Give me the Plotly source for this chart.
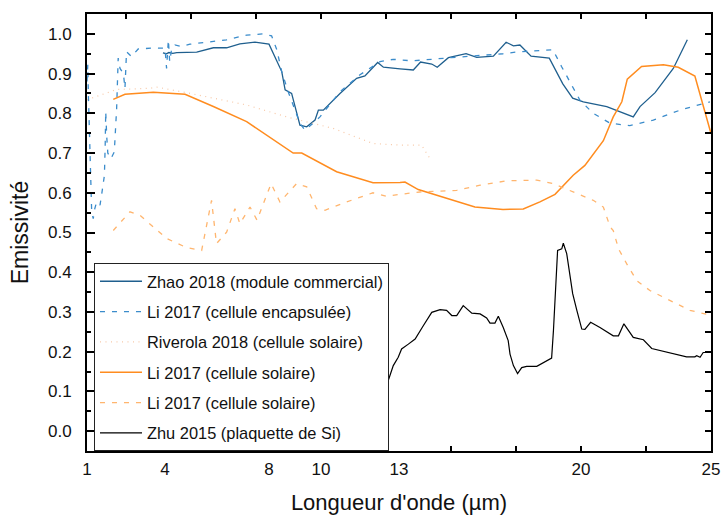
import plotly.graph_objects as go

# ---- data ----
zhao_x = [3.92, 4.05, 4.15, 4.30, 4.45, 5.22, 5.86, 6.37, 6.88, 7.46, 8.00, 8.49, 8.62, 8.87, 9.19,
          9.45, 9.77, 9.90, 10.09, 10.73, 11.37, 11.69, 12.18, 12.40, 13.04, 13.55, 13.83, 14.26,
          14.47, 14.90, 15.58, 15.99, 16.63, 16.82, 17.12, 17.40, 17.65, 18.08, 18.78, 19.30,
          19.68, 20.09, 20.99, 22.01, 22.27, 22.85, 23.55, 24.09]
zhao_y = [0.952, 0.950, 0.953, 0.951, 0.953, 0.954, 0.965, 0.965, 0.975, 0.979, 0.974, 0.905, 0.859,
          0.850, 0.770, 0.766, 0.783, 0.808, 0.808, 0.850, 0.888, 0.894, 0.928, 0.916, 0.912, 0.909,
          0.929, 0.924, 0.916, 0.940, 0.950, 0.941, 0.944, 0.957, 0.979, 0.970, 0.972, 0.944, 0.939,
          0.874, 0.838, 0.829, 0.817, 0.791, 0.817, 0.852, 0.913, 0.985]

enc_x = [1.00, 1.03, 1.05, 1.08, 1.12, 1.18, 1.24, 1.30, 1.37, 1.50, 1.56, 1.62, 1.67, 1.70, 1.72,
         1.76, 1.80, 1.92, 2.05, 2.14, 2.20, 2.27, 2.40, 2.46, 2.52, 2.71, 2.97, 3.49, 4.00, 4.06,
         4.10, 4.13, 4.18, 4.26, 4.38, 4.64, 4.96, 6.37, 7.14, 7.78, 8.10, 8.30, 8.49, 8.74, 9.19,
         9.38, 9.70, 9.96, 10.73, 11.50, 12.27, 12.78, 13.50, 14.00, 15.00, 16.00, 17.00, 17.60,
         18.50, 18.92, 19.25, 19.96, 20.47, 21.12, 21.88, 22.78, 23.81, 24.96]
enc_y = [0.880, 0.922, 0.854, 0.770, 0.644, 0.552, 0.535, 0.560, 0.577, 0.569, 0.594, 0.620, 0.644,
         0.720, 0.804, 0.740, 0.700, 0.686, 0.703, 0.812, 0.939, 0.913, 0.900, 0.863, 0.955, 0.943,
         0.962, 0.964, 0.964, 0.913, 0.960, 0.985, 0.930, 0.964, 0.972, 0.968, 0.974, 0.985, 0.997,
         1.000, 0.995, 0.960, 0.905, 0.854, 0.775, 0.758, 0.775, 0.791, 0.854, 0.897, 0.930, 0.936,
         0.932, 0.935, 0.940, 0.945, 0.950, 0.955, 0.958, 0.960, 0.918, 0.833, 0.800, 0.775, 0.769,
         0.783, 0.808, 0.829]

riv_x = [1.00, 2.14, 3.42, 3.68, 4.83, 7.14, 8.68, 10.47, 12.00, 13.04, 13.87, 14.19]
riv_y = [0.834, 0.860, 0.863, 0.866, 0.852, 0.821, 0.791, 0.762, 0.724, 0.720, 0.720, 0.686]

lis_x = [2.01, 2.46, 3.55, 4.77, 5.86, 7.14, 8.93, 9.26, 10.60, 12.00, 13.04, 13.23, 13.74, 15.92,
         17.00, 17.78, 18.42, 19.00, 19.70, 20.15, 20.86, 21.24, 21.57, 21.78, 22.33, 23.17, 23.74,
         24.38, 25.00]
lis_y = [0.835, 0.848, 0.853, 0.848, 0.817, 0.779, 0.700, 0.700, 0.653, 0.625, 0.626, 0.627, 0.608,
         0.564, 0.558, 0.559, 0.577, 0.596, 0.644, 0.669, 0.731, 0.791, 0.829, 0.886, 0.918, 0.922,
         0.916, 0.894, 0.749]

lid_x = [2.01, 2.65, 3.04, 4.06, 4.83, 5.41, 5.79, 5.98, 6.37, 6.69, 6.88, 7.27, 7.54, 7.73, 8.08,
         8.42, 9.06, 9.45, 9.83, 10.15, 10.99, 12.00, 12.53, 13.04, 13.80, 15.22, 16.12, 17.14,
         18.30, 18.94, 19.70, 20.47, 20.86, 21.12, 21.24, 21.45, 21.76, 22.14, 22.65, 23.42, 24.19,
         24.90]
lid_y = [0.505, 0.552, 0.543, 0.485, 0.462, 0.455, 0.581, 0.472, 0.501, 0.560, 0.522, 0.564, 0.531,
         0.564, 0.623, 0.577, 0.623, 0.615, 0.560, 0.556, 0.577, 0.600, 0.591, 0.596, 0.602, 0.606,
         0.619, 0.630, 0.632, 0.623, 0.602, 0.581, 0.564, 0.514, 0.505, 0.458, 0.421, 0.379, 0.354,
         0.329, 0.304, 0.293]

zhu_x = [12.60, 12.78, 12.97, 13.10, 13.36, 13.62, 13.94, 14.26, 14.58, 14.83, 15.03, 15.22, 15.47,
         15.80, 16.12, 16.37, 16.50, 16.69, 16.82, 17.01, 17.20, 17.27, 17.40, 17.56, 17.72, 17.91,
         18.30, 18.55, 18.87, 18.94, 19.03, 19.10, 19.26, 19.32, 19.45, 19.58, 19.68, 19.84, 20.03,
         20.15, 20.37, 20.73, 21.24, 21.44, 21.65, 22.01, 22.40, 22.72, 23.55, 24.06, 24.38, 24.45,
         24.58, 24.70, 24.96]
zhu_y = [0.130, 0.165, 0.186, 0.207, 0.219, 0.232, 0.266, 0.299, 0.306, 0.304, 0.291, 0.291, 0.316,
         0.297, 0.295, 0.285, 0.272, 0.272, 0.289, 0.261, 0.228, 0.194, 0.165, 0.145, 0.160, 0.163,
         0.163, 0.172, 0.184, 0.253, 0.379, 0.455, 0.459, 0.473, 0.447, 0.396, 0.346, 0.304, 0.257,
         0.256, 0.274, 0.261, 0.240, 0.240, 0.270, 0.236, 0.230, 0.208, 0.194, 0.187, 0.187, 0.190,
         0.186, 0.198, 0.198]

names = ["Zhao 2018 (module commercial)", "Li 2017 (cellule encapsulée)",
         "Riverola 2018 (cellule solaire)", "Li 2017 (cellule solaire)",
         "Li 2017 (cellule solaire)", "Zhu 2015 (plaquette de Si)"]
x_tick_vals = [1, 4, 8, 10, 13, 20, 25]
x_tick_text = ["1", "4", "8", "10", "13", "20", "25"]
x_mark_vals = [2.5, 5, 7.5, 10, 12.5, 15, 17.5, 20, 22.5, 25]
y_tick_vals = [0.0, 0.1, 0.2, 0.3, 0.4, 0.5, 0.6, 0.7, 0.8, 0.9, 1.0]
y_tick_text = ["0.0", "0.1", "0.2", "0.3", "0.4", "0.5", "0.6", "0.7", "0.8", "0.9", "1.0"]

FONT = "Liberation Sans, Arial, sans-serif"
X_RANGE = [1, 25]
Y_RANGE = [-0.05, 1.05]

series = [
    (zhao_x, zhao_y, dict(color="#1f5f8e", width=1.3)),
    (enc_x, enc_y, dict(color="#3b8ccb", width=1.3, dash="5px,7px")),
    (riv_x, riv_y, dict(color="#f7c9a8", width=1.2, dash="1px,4.5px")),
    (lis_x, lis_y, dict(color="#ff8c1f", width=1.5)),
    (lid_x, lid_y, dict(color="#ffb56e", width=1.3, dash="5px,7px")),
    (zhu_x, zhu_y, dict(color="#000000", width=1.2)),
]

fig = go.Figure()
for i, (xs, ys, ln) in enumerate(series):
    fig.add_trace(go.Scatter(x=xs, y=ys, mode="lines", name=names[i], line=ln,
                             legendgroup="g%d" % i))

# invisible helper traces so the extra (label / top / right) axes are drawn
for xa, ya in [("x2", "y"), ("x3", "y"), ("x", "y2")]:
    fig.add_trace(go.Scatter(x=X_RANGE, y=[0.5, 0.5], xaxis=xa, yaxis=ya, mode="lines",
                             line=dict(width=0, color="rgba(0,0,0,0)"),
                             showlegend=False, hoverinfo="skip"))

fig.update_layout(
    width=722, height=515,
    margin=dict(l=87, r=11, t=14, b=64, autoexpand=False),
    paper_bgcolor="white", plot_bgcolor="white",
    font=dict(family=FONT, color="#111111"),
    showlegend=True,
    legend=dict(x=0.0112, y=0.430, xanchor="left", yanchor="top",
                bgcolor="white", bordercolor="#222222", borderwidth=1,
                font=dict(family=FONT, size=16.4, color="#111111"),
                tracegroupgap=6, itemwidth=42),
    # bottom axis: tick marks only
    xaxis=dict(range=X_RANGE, tickmode="array", tickvals=x_mark_vals, showticklabels=False,
               ticks="inside", ticklen=5, tickwidth=1.5, tickcolor="black",
               showgrid=False, zeroline=False, showline=True, linecolor="black",
               linewidth=2, mirror=True, automargin=False,
               title=dict(text="Longueur d'onde (µm)", font=dict(size=22), standoff=43)),
    # bottom labels
    xaxis2=dict(range=X_RANGE, overlaying="x", anchor="y", side="bottom",
                tickmode="array", tickvals=x_tick_vals, ticktext=x_tick_text, ticks="",
                tickfont=dict(size=17), ticklabelstandoff=6, showgrid=False,
                zeroline=False, showline=False, automargin=False),
    # top tick marks
    xaxis3=dict(range=X_RANGE, overlaying="x", anchor="y", side="top",
                tickmode="array", tickvals=x_mark_vals, showticklabels=False,
                ticks="inside", ticklen=5, tickwidth=1.5, tickcolor="black",
                showgrid=False, zeroline=False, showline=False, automargin=False),
    yaxis=dict(range=Y_RANGE, tickmode="array", tickvals=y_tick_vals, ticktext=y_tick_text,
               ticks="inside", ticklen=8, tickwidth=2, tickcolor="black",
               minor=dict(dtick=0.05, tick0=0, ticks="inside", ticklen=4, tickwidth=1.5,
                          tickcolor="black"),
               showgrid=False, zeroline=False, showline=True, linecolor="black", linewidth=2,
               mirror=True, tickfont=dict(size=17), ticklabelstandoff=10, automargin=False,
               title=dict(text="Emissivité", font=dict(size=23), standoff=13)),
    # right tick marks
    yaxis2=dict(range=Y_RANGE, overlaying="y", anchor="x", side="right",
                tickmode="linear", tick0=0, dtick=0.05, showticklabels=False,
                ticks="inside", ticklen=6, tickwidth=1.5, tickcolor="black",
                showgrid=False, zeroline=False, showline=False, automargin=False),
)

fig.write_html("out.html", config={"displayModeBar": False},
               post_script="document.body.style.margin='0px';document.body.style.padding='0px';")
